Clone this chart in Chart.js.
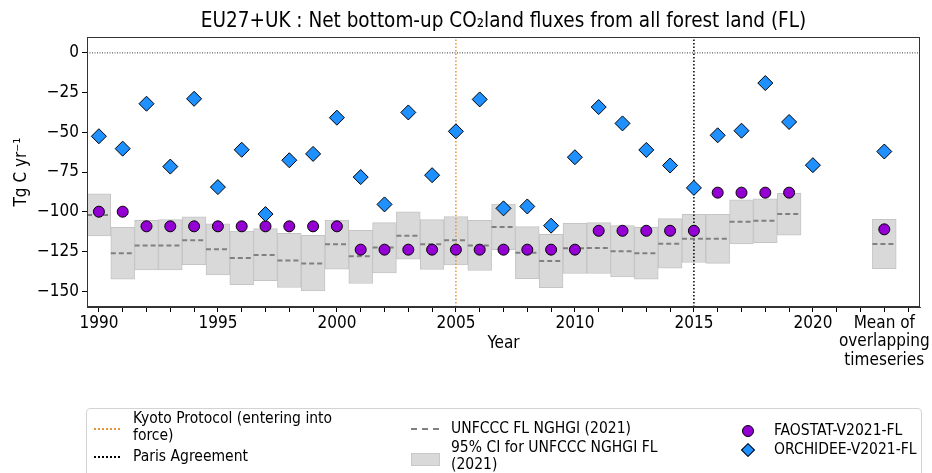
<!DOCTYPE html>
<html>
<head>
<meta charset="utf-8">
<script src="https://cdn.jsdelivr.net/npm/chart.js@4.4.1/dist/chart.umd.min.js"></script>
<style>
  body { margin: 0; background: #fff; }
  #wrap { position: relative; width: 932px; height: 473px; overflow: hidden;
          font-family: "DejaVu Sans Condensed", "DejaVu Sans", sans-serif; color: #000; }
  #legend { position: absolute; left: 86px; top: 408px; width: 834px; height: 90px;
            border: 1px solid #d3d3d3; border-radius: 4px; font-size: 15.5px; background: #fff; }
  .it { position: absolute; line-height: 17px; white-space: nowrap; }
  .ln { position: absolute; width: 26px; height: 0; }
</style>
</head>
<body>
<div id="wrap">
  <canvas id="chart" width="932" height="473"></canvas>
  <div id="legend">
    <div class="ln" style="left:7px; top:19px; border-top:2px dotted #e8943a;"></div>
    <div class="it" style="left:46px; top:1px;">Kyoto Protocol (entering into<br>force)</div>
    <div class="ln" style="left:7px; top:47px; border-top:2px dotted #000;"></div>
    <div class="it" style="left:46px; top:39px;">Paris Agreement</div>

    <div class="ln" style="left:324px; top:19px; width:28px; border-top:2px dashed #808080;"></div>
    <div class="it" style="left:364px; top:11px;">UNFCCC FL NGHGI (2021)</div>
    <div style="position:absolute; left:324px; top:44px; width:27px; height:11px; background:#d9d9d9; border:1px solid #c8c8c8;"></div>
    <div class="it" style="left:364px; top:30px;">95% CI for UNFCCC NGHGI FL<br>(2021)</div>

    <div style="position:absolute; left:655px; top:16px; width:10px; height:10px; border-radius:50%; background:#9400d3; border:1px solid #000;"></div>
    <div class="it" style="left:687px; top:13px;">FAOSTAT-V2021-FL</div>
    <div style="position:absolute; left:656px; top:36px; width:8px; height:8px; transform:rotate(45deg); background:#1e90ff; border:1px solid #000;"></div>
    <div class="it" style="left:687px; top:32px;">ORCHIDEE-V2021-FL</div>
  </div>
</div>
<script>
// data (Tg C / yr)
const orchideeYears = [1990, 1991, 1992, 1993, 1994, 1995, 1996, 1997, 1998, 1999,
  2000, 2001, 2002, 2003, 2004, 2005, 2006, 2007, 2008, 2009,
  2010, 2011, 2012, 2013, 2014, 2015, 2016, 2017, 2018, 2019, 2020];
const orchideeValues = [-52.5, -60.3, -32, -71.6, -28.9, -84.5, -61, -101.5, -67.6, -63.6,
  -40.8, -78.2, -95.4, -37.5, -77, -49.4, -29.3, -97.9, -96.7, -108.8,
  -65.7, -34.1, -44.4, -61.1, -70.9, -85, -51.9, -49, -19, -43.5, -70.7];

const invYears = [1990, 1991, 1992, 1993, 1994, 1995, 1996, 1997, 1998, 1999,
  2000, 2001, 2002, 2003, 2004, 2005, 2006, 2007, 2008, 2009,
  2010, 2011, 2012, 2013, 2014, 2015, 2016, 2017, 2018, 2019];
const faostatValues = [-100, -100, -109.2, -109.2, -109.2, -109.2, -109.2, -109.2, -109.2, -109.2,
  -109.2, -123.9, -123.9, -123.9, -123.9, -123.9, -123.9, -123.9, -123.9, -123.9,
  -123.9, -112, -112, -112, -112, -112, -88, -88, -88, -88];
const unfcccValues = [-102.1, -126.2, -121.2, -121.2, -118, -123.7, -129.1, -127.2, -130.8, -132.6,
  -120.5, -128, -122.6, -115.1, -120.5, -118, -121.2, -109.6, -125.8, -131,
  -123, -122.8, -124.9, -126.2, -120.1, -117, -117, -106.3, -105.7, -101.5];
const unfcccLow = [-115.3, -142.5, -136.6, -136.6, -133.3, -139.8, -146, -143.5, -147.7, -149.8,
  -136.2, -145.2, -138.5, -129.9, -136.4, -133.5, -137, -123.9, -142.1, -147.9,
  -138.9, -138.9, -141, -142.5, -135.6, -132, -132.5, -120.3, -119.5, -114.7];
const unfcccHigh = [-88.7, -109.9, -105.5, -105, -103.2, -107.6, -112.2, -110.7, -113.6, -114.9,
  -105.2, -111.7, -106.9, -100, -105, -103.1, -105.5, -95.2, -109.4, -114.3,
  -107.3, -106.9, -108.8, -109.9, -104.4, -101.7, -101.7, -92.5, -91.9, -88.5];

// "Mean of overlapping timeseries" column
const meanPos = 2023;
const meanOrchidee = -62.1;
const meanFaostat = -111.1;
const meanUnfccc = -120.3;
const meanUnfcccLow = -135.8;
const meanUnfcccHigh = -104.8;

const kyotoYear = 2005;
const parisYear = 2015;
const majorTicks = [1990, 1995, 2000, 2005, 2010, 2015, 2020];
const meanTickLabel = ['Mean of', 'overlapping', 'timeseries'];
const yTicks = [0, -25, -50, -75, -100, -125, -150];
const yMin = -160, yMax = 10;
const titleText = 'EU27+UK : Net bottom-up CO\u2082land fluxes from all forest land (FL)';

const FONT = '"DejaVu Sans Condensed", "DejaVu Sans", sans-serif';
Chart.defaults.font.family = FONT;
Chart.defaults.color = '#000';

// boxes and dashes
let boxData = invYears.map((yr, i) => ({ x: yr, y: [unfcccLow[i], unfcccHigh[i]] }));
boxData.push({ x: meanPos, y: [meanUnfcccLow, meanUnfcccHigh] });

let dashData = [];
invYears.concat([meanPos]).forEach((yr, i) => {
  const v = i < unfcccValues.length ? unfcccValues[i] : meanUnfccc;
  dashData.push({ x: yr - 0.5, y: v }, { x: yr + 0.5, y: v }, { x: yr + 0.5, y: null });
});

let faoData = invYears.map((yr, i) => ({ x: yr, y: faostatValues[i] }));
faoData.push({ x: meanPos, y: meanFaostat });
let orcData = orchideeYears.map((yr, i) => ({ x: yr, y: orchideeValues[i] }));
orcData.push({ x: meanPos, y: meanOrchidee });

const framePlugin = {
  id: 'frame',
  afterDraw(chart) {
    const { ctx, chartArea: a } = chart;
    ctx.save();
    ctx.strokeStyle = '#333';
    ctx.lineWidth = 1;
    ctx.strokeRect(a.left + 0.5, a.top + 0.5, a.width - 1, a.height - 1);
    ctx.fillStyle = '#000';
    ctx.textAlign = 'center';
    ctx.textBaseline = 'middle';
    ctx.font = '20.5px ' + FONT;
    ctx.fillText(titleText, (a.left + a.right) / 2, 22);
    ctx.font = '17px ' + FONT;
    ctx.fillText('Year', (a.left + a.right) / 2, a.bottom + 37);
    ctx.restore();
  }
};

new Chart(document.getElementById('chart'), {
  type: 'bar',
  data: {
    datasets: [
      {
        type: 'scatter',
        label: 'ORCHIDEE-V2021-FL',
        data: orcData,
        pointStyle: 'rectRot',
        pointRadius: 7.5,
        backgroundColor: '#1e90ff',
        borderColor: '#000',
        borderWidth: 1,
        order: 0,
      },
      {
        type: 'scatter',
        label: 'FAOSTAT-V2021-FL',
        data: faoData,
        pointStyle: 'circle',
        pointRadius: 5.5,
        backgroundColor: '#9400d3',
        borderColor: '#000',
        borderWidth: 1,
        order: 1,
      },
      {
        type: 'line',
        label: 'UNFCCC FL NGHGI (2021)',
        data: dashData,
        borderColor: '#808080',
        borderWidth: 2,
        borderDash: [5, 3],
        pointRadius: 0,
        spanGaps: false,
        order: 2,
      },
      {
        type: 'line',
        label: 'Kyoto Protocol (entering into force)',
        data: [{ x: kyotoYear, y: yMin }, { x: kyotoYear, y: yMax }],
        borderColor: '#e8943a',
        borderWidth: 1.5,
        borderDash: [1.5, 2],
        pointRadius: 0,
        order: 3,
      },
      {
        type: 'line',
        label: 'Paris Agreement',
        data: [{ x: parisYear, y: yMin }, { x: parisYear, y: yMax }],
        borderColor: '#000',
        borderWidth: 1.5,
        borderDash: [1.5, 2],
        pointRadius: 0,
        order: 3,
      },
      {
        type: 'line',
        label: 'zero',
        data: [{ x: 1989.5, y: 0 }, { x: 2024.5, y: 0 }],
        borderColor: '#000',
        borderWidth: 0.8,
        borderDash: [1, 1.5],
        pointRadius: 0,
        order: 3,
      },
      {
        type: 'bar',
        label: '95% CI for UNFCCC NGHGI FL (2021)',
        data: boxData,
        backgroundColor: '#d9d9d9',
        borderColor: '#c4c4c4',
        borderWidth: 1,
        borderSkipped: false,
        barPercentage: 1,
        categoryPercentage: 1,
        order: 5,
      },
    ],
  },
  options: {
    responsive: false,
    animation: false,
    layout: { padding: { top: 37, right: 12, left: 0, bottom: 0 } },
    plugins: { legend: { display: false }, tooltip: { enabled: false }, title: { display: false } },
    scales: {
      x: {
        type: 'linear',
        min: 1989.5,
        max: 2024.5,
        offset: false,
        afterBuildTicks(scale) {
          let t = [];
          for (let yr = 1990; yr <= 2024; yr++) t.push({ value: yr });
          scale.ticks = t;
        },
        afterFit(scale) { scale.height = 166; },
        ticks: {
          autoSkip: false,
          maxRotation: 0,
          minRotation: 0,
          padding: 2,
          font: { size: 17, lineHeight: 1.1 },
          callback(v) {
            if (majorTicks.includes(v)) return String(v);
            if (v === meanPos) return meanTickLabel;
            return '';
          },
        },
        grid: { display: true, drawOnChartArea: false, offset: false, tickLength: 5, color: '#000' },
        border: { display: true, color: '#333' },
      },
      y: {
        type: 'linear',
        min: yMin,
        max: yMax,
        afterBuildTicks(scale) { scale.ticks = yTicks.map(v => ({ value: v })); },
        afterFit(scale) { scale.width = 87; },
        ticks: {
          padding: 3,
          font: { size: 17 },
          callback(v) { return v < 0 ? '\u2212' + Math.abs(v) : String(v); },
        },
        grid: { display: true, drawOnChartArea: false, tickLength: 5, color: '#000' },
        border: { display: true, color: '#333' },
        title: { display: true, text: 'Tg C yr\u207b\u00b9', font: { size: 17 }, padding: { top: 11, bottom: 0 } },
      },
    },
  },
  plugins: [framePlugin],
});
</script>
</body>
</html>
